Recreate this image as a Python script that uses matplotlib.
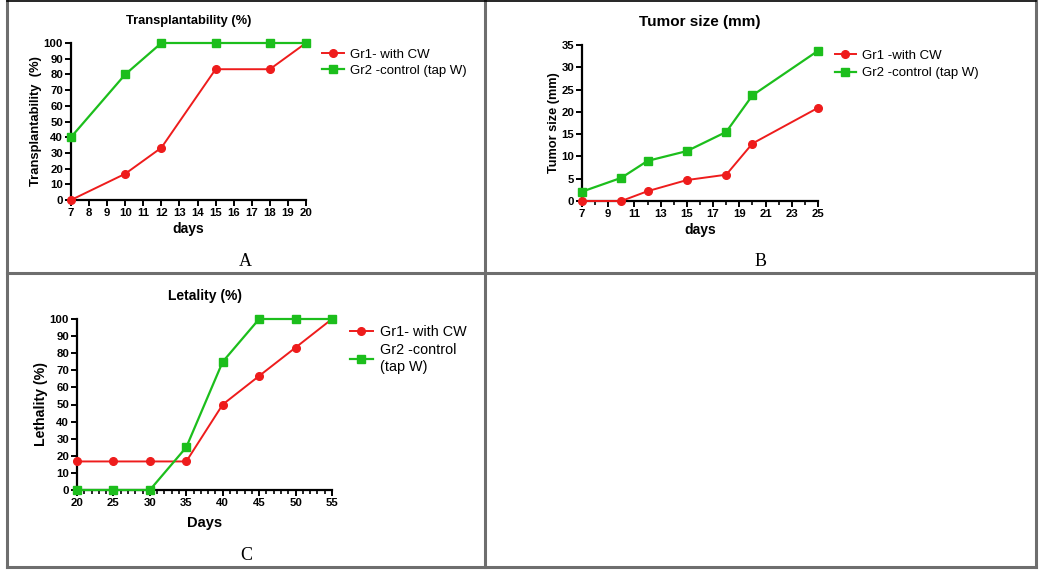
import matplotlib.pyplot as plt
from matplotlib.lines import Line2D
from matplotlib.ticker import MultipleLocator

# ---- data ----
days_a = [7, 10, 12, 15, 18, 20]
gr1_a = [0, 16.7, 33.3, 83.3, 83.3, 100]
gr2_a = [40, 80, 100, 100, 100, 100]

days_b = [7, 10, 12, 15, 18, 20, 25]
gr1_b = [0, 0, 2.2, 4.7, 5.9, 12.9, 20.9]
gr2_b = [2.1, 5.2, 9.0, 11.2, 15.5, 23.7, 33.7]

days_c = [20, 25, 30, 35, 40, 45, 50, 55]
gr1_c = [16.7, 16.7, 16.7, 16.7, 50, 66.7, 83.3, 100]
gr2_c = [0, 0, 0, 25, 75, 100, 100, 100]

RED = "#ee1c1c"
GREEN = "#1cbe1c"
W, H = 1044, 574

plt.rcParams['font.family'] = ['Liberation Sans', 'DejaVu Sans']

fig = plt.figure(figsize=(W / 100, H / 100), dpi=100)


def px_axes(left, top, right, bottom):
    """axes from pixel box (top-left origin)"""
    return fig.add_axes([left / W, 1 - bottom / H, (right - left) / W, (bottom - top) / H])


def style_panel(ax, title, ylabel, xlabel, tsize, ysize, xsize, xpad=2):
    for s in ["top", "right"]:
        ax.spines[s].set_visible(False)
    for s in ["left", "bottom"]:
        ax.spines[s].set_linewidth(1.6)
    ax.tick_params(which="major", length=4.5, width=1.4, labelsize=8.2, pad=1.2)
    ax.tick_params(which="minor", length=3, width=1.2)
    for lab in ax.get_xticklabels() + ax.get_yticklabels():
        lab.set_fontweight("bold")
    ax.set_title(title, fontsize=tsize, fontweight="bold", pad=14)
    ax.set_ylabel(ylabel, fontsize=ysize, fontweight="bold", labelpad=1)
    ax.set_xlabel(xlabel, fontsize=xsize, fontweight="bold", labelpad=xpad)


def draw_lines(ax, x, y1, y2):
    ax.plot(x, y1, color=RED, marker="o", markersize=5.5, lw=1.4, clip_on=False, zorder=3)
    ax.plot(x, y2, color=GREEN, marker="s", markersize=5.5, lw=1.6, clip_on=False, zorder=3)


def add_legend(ax, labels, loc, spacing, size=9.5):
    handles = [
        Line2D([], [], color=RED, marker="o", markersize=5.5, lw=1.4),
        Line2D([], [], color=GREEN, marker="s", markersize=5.5, lw=1.6),
    ]
    return ax.legend(handles, labels, loc="upper left", bbox_to_anchor=loc, frameon=False,
                     fontsize=size, handlelength=1.6, handletextpad=0.5,
                     labelspacing=spacing, borderaxespad=0, borderpad=0)


# ---- A ----
ax = px_axes(71, 43, 306, 200)
draw_lines(ax, days_a, gr1_a, gr2_a)
ax.set_xlim(7, 20)
ax.set_ylim(0, 100)
ax.yaxis.set_major_locator(MultipleLocator(10))
ax.set_xticks(range(7, 21))
style_panel(ax, "Transplantability (%)", "Transplantability  (%)", "days", 9.3, 9.4, 10, 3)
add_legend(ax, ["Gr1- with CW", "Gr2 -control (tap W)"], (1.07, 0.965), 0.3)

# ---- B ----
ax = px_axes(582, 45, 818, 201)
draw_lines(ax, days_b, gr1_b, gr2_b)
ax.set_xlim(7, 25)
ax.set_ylim(0, 35)
ax.set_xticks(range(7, 26, 2))
ax.xaxis.set_minor_locator(MultipleLocator(1))
ax.yaxis.set_major_locator(MultipleLocator(5))
style_panel(ax, "Tumor size (mm)", "Tumor size (mm)", "days", 11, 9.2, 10, 3)
add_legend(ax, ["Gr1 -with CW", "Gr2 -control (tap W)"], (1.07, 0.97), 0.4)

# ---- C ----
ax = px_axes(77, 319, 332, 490)
draw_lines(ax, days_c, gr1_c, gr2_c)
ax.set_xlim(20, 55)
ax.set_ylim(0, 100)
ax.set_xticks(range(20, 56, 5))
ax.xaxis.set_minor_locator(MultipleLocator(1))
ax.yaxis.set_major_locator(MultipleLocator(10))
style_panel(ax, "Letality (%)", "Lethality (%)", "Days", 10, 10.2, 10.5, 6)
leg = add_legend(ax, ["Gr1- with CW", "Gr2 -control\n(tap W)"], (1.07, 0.965), 0.25, 10.4)
for t in leg.get_texts():
    t.set_linespacing(1.3)

# ---- panel letters ----
for x, y, s in [(245, 262, "A"), (761, 262, "B"), (246, 556, "C")]:
    fig.text(x / W, 1 - y / H, s, ha="center", va="center", fontsize=13,
             family=["Liberation Serif", "DejaVu Serif"])

# ---- table grid ----
grid = "#6e6e6e"
for xs, ys in [([7, 7], [0, 567]), ([485, 485], [0, 567]), ([1036, 1036], [0, 567]),
               ([7, 1036], [273, 273]), ([7, 1036], [567, 567])]:
    fig.add_artist(Line2D([v / W for v in xs], [1 - v / H for v in ys],
                          color=grid, lw=2.2))
fig.add_artist(Line2D([7 / W, 1036 / W], [1 - 0.5 / H, 1 - 0.5 / H], color="black", lw=1.2))

fig.savefig("out.png", dpi=100)
